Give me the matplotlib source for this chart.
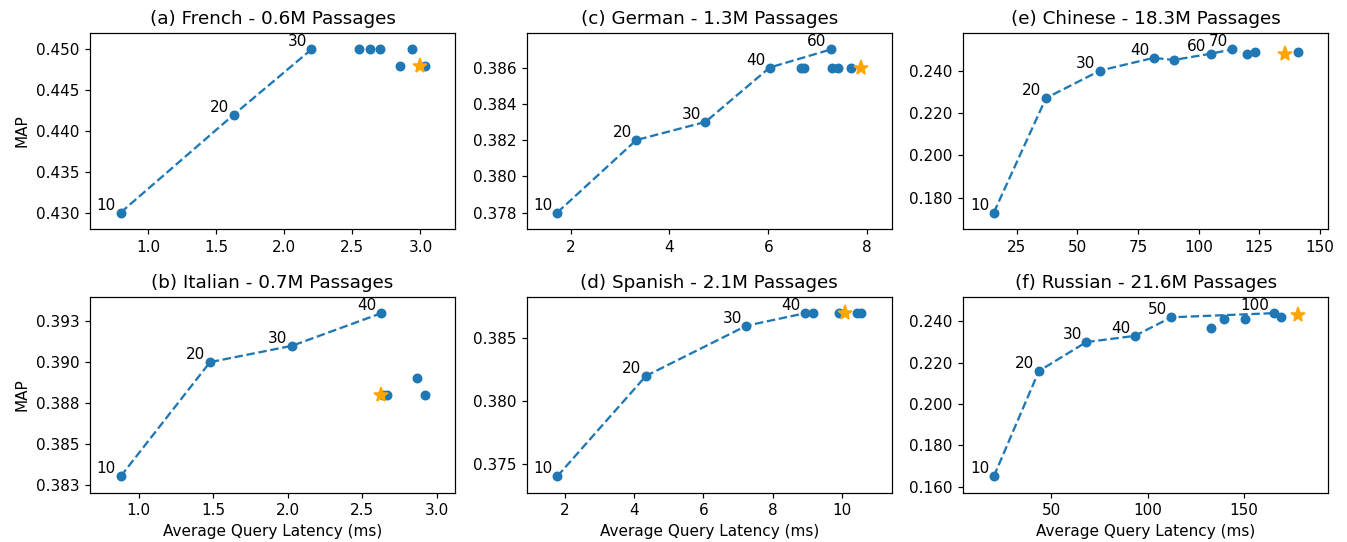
import matplotlib
matplotlib.use("Agg")
import matplotlib.pyplot as plt
from matplotlib.ticker import FormatStrFormatter

# (title, curve x, curve y, curve labels, extra x, extra y, star x, star y)
fr_title = "(a) French - 0.6M Passages"
fr_x = [0.80, 1.63, 2.20]
fr_y = [0.430, 0.442, 0.450]
fr_lab = ["10", "20", "30"]
fr_ex = [2.55, 2.63, 2.70, 2.85, 2.94, 3.03]
fr_ey = [0.450, 0.450, 0.450, 0.448, 0.450, 0.448]
fr_star = (3.00, 0.448)

it_title = "(b) Italian - 0.7M Passages"
it_x = [0.88, 1.48, 2.03, 2.63]
it_y = [0.3830, 0.3900, 0.3910, 0.3930]
it_lab = ["10", "20", "30", "40"]
it_ex = [2.64, 2.67, 2.87, 2.92]
it_ey = [0.3880, 0.3880, 0.3890, 0.3880]
it_star = (2.63, 0.3880)

de_title = "(c) German - 1.3M Passages"
de_x = [1.73, 3.33, 4.73, 6.03, 7.27]
de_y = [0.378, 0.382, 0.383, 0.386, 0.387]
de_lab = ["10", "20", "30", "40", "60"]
de_ex = [6.67, 6.72, 7.28, 7.41, 7.68]
de_ey = [0.386, 0.386, 0.386, 0.386, 0.386]
de_star = (7.88, 0.386)

es_title = "(d) Spanish - 2.1M Passages"
es_x = [1.78, 4.34, 7.24, 8.94]
es_y = [0.374, 0.382, 0.386, 0.387]
es_lab = ["10", "20", "30", "40"]
es_ex = [9.16, 9.92, 10.42, 10.55]
es_ey = [0.387, 0.387, 0.387, 0.387]
es_star = (10.07, 0.387)

zh_title = "(e) Chinese - 18.3M Passages"
zh_x = [15.6, 37.1, 59.4, 81.5, 89.8, 105.2, 113.9]
zh_y = [0.173, 0.227, 0.240, 0.246, 0.245, 0.248, 0.250]
zh_lab = ["10", "20", "30", "40", "", "60", "70"]
zh_ex = [120.0, 123.4, 140.9]
zh_ey = [0.248, 0.249, 0.249]
zh_star = (135.5, 0.248)

ru_title = "(f) Russian - 21.6M Passages"
ru_x = [20.2, 43.6, 68.2, 93.3, 112.3, 165.4]
ru_y = [0.165, 0.216, 0.230, 0.233, 0.242, 0.244]
ru_lab = ["10", "20", "30", "40", "50", "100"]
ru_ex = [133.0, 139.6, 150.3, 169.4]
ru_ey = [0.237, 0.241, 0.241, 0.242]
ru_star = (177.9, 0.243)

panels = [
    (fr_title, fr_x, fr_y, fr_lab, fr_ex, fr_ey, fr_star),
    (it_title, it_x, it_y, it_lab, it_ex, it_ey, it_star),
    (de_title, de_x, de_y, de_lab, de_ex, de_ey, de_star),
    (es_title, es_x, es_y, es_lab, es_ex, es_ey, es_star),
    (zh_title, zh_x, zh_y, zh_lab, zh_ex, zh_ey, zh_star),
    (ru_title, ru_x, ru_y, ru_lab, ru_ex, ru_ey, ru_star),
]

fig, axes = plt.subplots(2, 3, figsize=(1347 / 110, 542 / 110), dpi=110)
fig.subplots_adjust(left=0.067, right=0.986, top=0.939, bottom=0.091,
                    wspace=0.197, hspace=0.347)

for i, (title, x, y, lab, ex, ey, star) in enumerate(panels):
    ax = axes[i % 2, i // 2]
    ax.plot(x, y, "--", color="C0", marker="o", markersize=5.5)
    ax.plot(ex, ey, "o", color="C0", markersize=5.5)
    ax.plot(star[0], star[1], "*", color="orange", markersize=10)
    for xi, yi, t in zip(x, y, lab):
        if t:
            ax.annotate(t, (xi, yi), xytext=(-3, 0), textcoords="offset points",
                        ha="right", va="bottom", fontsize=10)
    ax.margins(0.1)
    ax.yaxis.set_major_formatter(FormatStrFormatter("%.3f"))
    ax.set_title(title)
    if i // 2 == 0:
        ax.set_ylabel("MAP")
    if i % 2 == 1:
        ax.set_xlabel("Average Query Latency (ms)")

fig.savefig("out.png", dpi=110)
